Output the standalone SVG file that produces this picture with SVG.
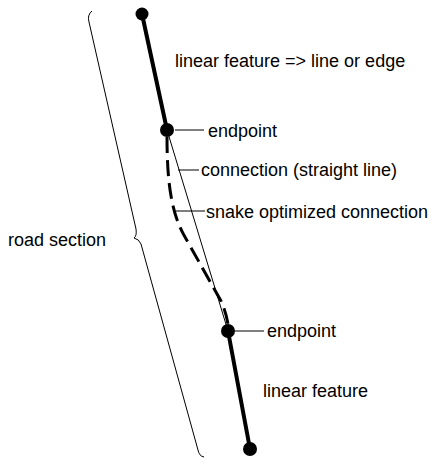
<svg xmlns="http://www.w3.org/2000/svg" width="441" height="468" viewBox="0 0 441 468">
  <style>
    .lbl { font-family: "Liberation Sans", Arial, sans-serif; font-size: 18px; fill: #000; }
    .thick { stroke: #000; stroke-width: 4; fill: none; stroke-linecap: round; }
    .thin { stroke: #000; stroke-width: 1; fill: none; }
    .snake { stroke: #000; stroke-width: 3; fill: none; stroke-dasharray: 16 7; }
    .node { fill: #000; }
  </style>
  <rect width="441" height="468" fill="#fff"/>

  <!-- road section brace -->
  <g id="brace">
    <path class="thin" d="M92,11 Q87,15 89,22 L136,229 Q137,236 134,238 Q139,239 141,244 L198,450 Q199,456 204,457"/>
    <text class="lbl" x="8" y="246">road section</text>
  </g>

  <g id="connectors">
    <!-- linear features -->
    <line class="thick" x1="142" y1="14" x2="167" y2="130"/>
    <line class="thick" x1="228" y1="331" x2="250" y2="449"/>
    <!-- straight connection -->
    <line class="thin" x1="167" y1="130" x2="228" y2="331"/>
    <!-- snake optimized connection -->
    <path class="snake" d="M167,137 C167,185 172,215 185,237 L221,301 Q226,312 228,324"/>
    <!-- label leaders -->
    <line class="thin" x1="175" y1="130" x2="204" y2="130"/>
    <line class="thin" x1="178" y1="170" x2="199" y2="170"/>
    <line class="thin" x1="176" y1="211" x2="205" y2="211"/>
    <line class="thin" x1="235" y1="331" x2="264" y2="331"/>
  </g>

  <g id="node-top"><circle class="node" cx="142" cy="14" r="6.5"/></g>
  <g id="node-endpoint-1"><circle class="node" cx="167" cy="130" r="7"/></g>
  <g id="node-endpoint-2"><circle class="node" cx="228" cy="331" r="7"/></g>
  <g id="node-bottom"><circle class="node" cx="250" cy="449" r="7"/></g>

  <g id="labels">
    <text class="lbl" x="175" y="67">linear feature =&gt; line or edge</text>
    <text class="lbl" x="208" y="137">endpoint</text>
    <text class="lbl" x="201" y="176">connection (straight line)</text>
    <text class="lbl" x="206" y="218">snake optimized connection</text>
    <text class="lbl" x="267" y="337">endpoint</text>
    <text class="lbl" x="263" y="397">linear feature</text>
  </g>
</svg>
